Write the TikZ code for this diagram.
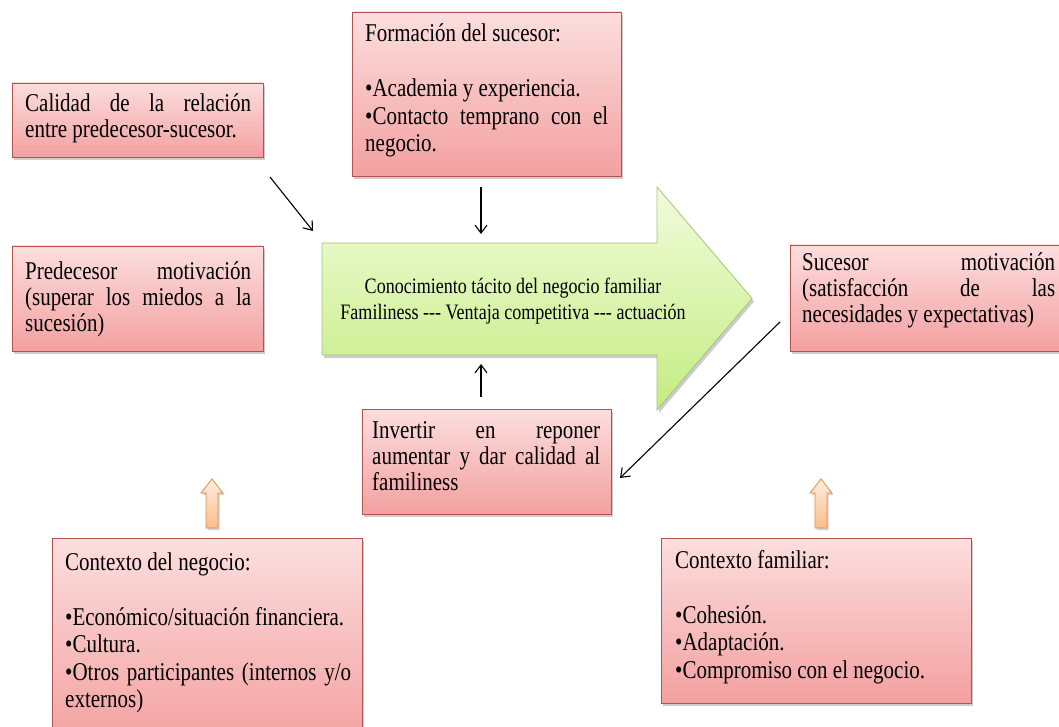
\documentclass[tikz,border=0pt]{standalone}
\usepackage{fontspec}
\setmainfont{Liberation Serif}[FakeStretch=0.82]
\usetikzlibrary{shadows,arrows.meta}
\setlength{\parindent}{0pt}
\hyphenpenalty=10000
\exhyphenpenalty=10000
\hbadness=10000
\definecolor{pinkTop}{RGB}{252,222,222}
\definecolor{pinkBot}{RGB}{243,160,160}
\definecolor{pinkLine}{RGB}{180,82,80}
\definecolor{greenTop}{RGB}{241,252,220}
\definecolor{greenBot}{RGB}{196,236,128}
\definecolor{greenLine}{RGB}{165,195,125}
\definecolor{orTop}{RGB}{254,238,222}
\definecolor{orBot}{RGB}{250,190,140}
\definecolor{orLine}{RGB}{226,140,78}
\tikzset{
  pbox/.style={draw=pinkLine, line width=0.8pt, top color=pinkTop, bottom color=pinkBot,
    drop shadow={shadow xshift=2pt, shadow yshift=-3pt, opacity=0.4}, inner sep=0pt},
  txt/.style={inner sep=0pt, anchor=base west, align=justify,
    font=\fontsize{25.6}{26}\selectfont},
  btxt/.style={txt, font=\fontsize{25.6}{27.5}\selectfont},
  link/.style={line width=1.1pt, -{Straight Barb[length=8pt,width=12pt]}},
  bigarrow/.style={draw=greenLine, line width=0.8pt, top color=greenTop, bottom color=greenBot,
    drop shadow={shadow xshift=2pt, shadow yshift=-3pt, opacity=0.4}},
  uparrow/.style={draw=orLine, line width=0.8pt, top color=orTop, bottom color=orBot,
    drop shadow={shadow xshift=1.5pt, shadow yshift=-2pt, opacity=0.35}}
}
\begin{document}
\begin{tikzpicture}[x=1pt,y=-1pt]
\useasboundingbox (0,0) rectangle (1059,727);

% central arrow
\path[bigarrow] (322,243) -- (657,243) -- (657,187) -- (752,298.5) -- (657,410)
  -- (657,355) -- (322,355) -- cycle;
\node[font=\fontsize{22}{26}\selectfont, align=center, inner sep=0pt] (core) at (513,301)
  {Conocimiento tácito del negocio familiar\\
   Familiness \mbox{-}\mbox{-}\mbox{-} Ventaja competitiva \mbox{-}\mbox{-}\mbox{-} actuación};

% boxes
\node[pbox, minimum width=251pt, minimum height=74pt] (cal) at (137.5,120) {};
\node[txt, text width=226pt] (calT) at (25,112)
  {Calidad de la relación\linebreak entre predecesor-sucesor.};

\node[pbox, minimum width=269pt, minimum height=164pt] (form) at (486.5,94) {};
\node[btxt, text width=243pt] (formT) at (365,42)
  {Formación del sucesor:\par\vskip 27.5pt
   •Academia y experiencia.\par
   •Contacto temprano con el\linebreak negocio.};

\node[pbox, minimum width=251pt, minimum height=105pt] (pred) at (137.5,298.5) {};
\node[txt, text width=226pt] (predT) at (25,279)
  {Predecesor motivación\linebreak (superar los miedos a la\linebreak sucesión)};

\node[pbox, minimum width=285pt, minimum height=106pt] (suc) at (932.5,298) {};
\node[txt, text width=253pt] (sucT) at (802,270)
  {Sucesor motivación\linebreak (satisfacción de las\linebreak necesidades y expectativas)};

\node[pbox, minimum width=249pt, minimum height=105pt] (inv) at (486.5,461.5) {};
\node[txt, text width=228pt] (invT) at (372,438)
  {Invertir en reponer\linebreak aumentar y dar calidad al\linebreak familiness};

\node[pbox, minimum width=310pt, minimum height=207pt] (neg) at (207,641.5) {};
\node[btxt, text width=286pt] (negT) at (65,570)
  {Contexto del negocio:\par\vskip 27.5pt
   •Económico/situación financiera.\par
   •Cultura.\par
   •Otros participantes (internos y/o\linebreak externos)};

\node[pbox, minimum width=310pt, minimum height=165pt] (fam) at (816,620.5) {};
\node[btxt, text width=286pt] (famT) at (675,568)
  {Contexto familiar:\par\vskip 27.5pt
   •Cohesión.\par
   •Adaptación.\par
   •Compromiso con el negocio.};

% connector end points
\coordinate (c1s) at (270,177);  \coordinate (c1e) at (313,231);
\coordinate (c2s) at (481,187);  \coordinate (c2e) at (481,234);
\coordinate (c3s) at (481,397);  \coordinate (c3e) at (481,364);
\coordinate (c4s) at (780,322);  \coordinate (c4e) at (620,478);

\draw[link] (c1s) -- (c1e);
\draw[link] (c2s) -- (c2e);
\draw[link] (c3s) -- (c3e);
\draw[link] (c4s) -- (c4e);

% context arrows
\foreach \xx in {212,821} {
  \path[uparrow, shift={(\xx,0)}] (-6,528) -- (-6,493) -- (-11,493) -- (0,479)
    -- (11,493) -- (6,493) -- (6,528) -- cycle;
}
\end{tikzpicture}
\end{document}
